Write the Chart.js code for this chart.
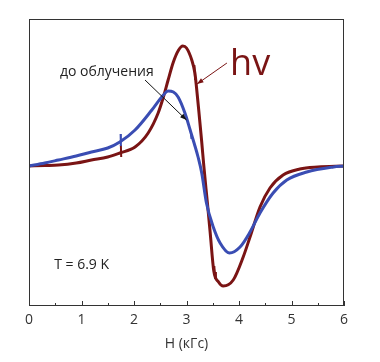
<!DOCTYPE html>
<html><head><meta charset="utf-8">
<script src="https://cdn.jsdelivr.net/npm/chart.js@4"></script>
<style>html,body{margin:0;padding:0;background:#fff}#wrap{width:380px;height:362px}</style>
</head><body><div id="wrap"><canvas id="c" width="380" height="362"></canvas></div>
<script>
// Field H (kG) and signal (arb. units) for each curve
const hRed = [0,0.3,0.56,0.9,1.19,1.5,1.73,2.02,2.27,2.46,2.56,2.65,2.75,2.85,2.93,3.0,3.1,3.16,3.19,3.24,3.29,3.33,3.4,3.45,3.52,3.61,3.7,3.89,4.08,4.21,4.4,4.59,4.84,5.16,5.5,6.0];
const redVals = [0,0.5,1,3,6,9,13,19,33,53,69,86,104,116,120,118,106,93,79,52,24,0,-38,-66,-105,-116,-120,-114,-91,-71,-41,-22,-9,-3,-1,0];
const hBlue = [0,0.3,0.56,0.9,1.19,1.5,1.73,2.02,2.34,2.56,2.65,2.75,2.84,2.97,3.07,3.15,3.22,3.29,3.38,3.51,3.64,3.82,4.02,4.21,4.4,4.65,4.91,5.29,5.8,6.0];
const blueVals = [0,3,6,10,14,18,24,36,56,71,75,74,69,53,36,22,9,-7,-37,-61,-77,-87,-81,-66,-47,-27,-14,-6,-1,0];
// small instrumental glitches on the traces
const redGlitchH = [[1.75,1.756],[3.15,3.165],[3.53,3.545,3.56]];
const redGlitchV = [[21,9],[101,86],[-100,-112,-106]];
const blueGlitchH = [[1.745,1.75],[3.08,3.095]];
const blueGlitchV = [[32,20],[35,27]];
const xTicks = [0,1,2,3,4,5,6];

const toPts = (xs, ys) => xs.map((x,i)=>({x, y: ys[i]}));

const RED = '#7a1414', BLUE = '#3a4db3', FONT = "'Open Sans', 'Noto Sans', sans-serif";

const decor = {
  id:'decor',
  afterDatasetsDraw(chart){
    const {ctx, chartArea:a, scales:{x,y}} = chart;
    ctx.save();
    ctx.strokeStyle='#333'; ctx.lineWidth=1;
    ctx.strokeRect(Math.round(a.left)+0.5, Math.round(a.top)+0.5, Math.round(a.right-a.left)-1, Math.round(a.bottom-a.top)-1);
    for(let v=0; v<=6.001; v+=0.5){
      const px = Math.round(x.getPixelForValue(v))+0.5;
      const len = Math.abs(v-Math.round(v))<1e-6 ? 5 : 3;
      ctx.beginPath(); ctx.moveTo(px, a.bottom); ctx.lineTo(px, a.bottom-len); ctx.stroke();
    }
    const arrow = (x1,y1,x2,y2,col,w) => {
      const X1=x.getPixelForValue(x1), Y1=y.getPixelForValue(y1), X2=x.getPixelForValue(x2), Y2=y.getPixelForValue(y2);
      ctx.strokeStyle=col; ctx.fillStyle=col; ctx.lineWidth=w;
      ctx.beginPath(); ctx.moveTo(X1,Y1); ctx.lineTo(X2,Y2); ctx.stroke();
      const ang=Math.atan2(Y2-Y1,X2-X1), L=7, W=0.35;
      ctx.beginPath(); ctx.moveTo(X2,Y2);
      ctx.lineTo(X2-L*Math.cos(ang-W), Y2-L*Math.sin(ang-W));
      ctx.lineTo(X2-L*Math.cos(ang+W), Y2-L*Math.sin(ang+W));
      ctx.closePath(); ctx.fill();
    };
    arrow(3.77,103,3.2,82,RED,1);
    arrow(2.21,86,3.0,46,'#111',1);
    ctx.textBaseline='alphabetic'; ctx.textAlign='left';
    ctx.fillStyle=RED; ctx.font="36px "+FONT;
    ctx.fillText('hv', x.getPixelForValue(3.83), y.getPixelForValue(91));
    ctx.textBaseline='middle';
    ctx.fillStyle='#222'; ctx.font="14px "+FONT;
    ctx.fillText('до облучения', x.getPixelForValue(0.59), y.getPixelForValue(94));
    ctx.fillText('T = 6.9 K', x.getPixelForValue(0.48), y.getPixelForValue(-99));
    ctx.restore();
  }
};

const line = (xs, ys, col, smooth) => ({data: toPts(xs, ys), borderColor: col, borderWidth: 3, pointRadius: 0,
  tension: smooth ? 0.4 : 0, cubicInterpolationMode: smooth ? 'monotone' : 'default'});
const datasets = [line(hBlue, blueVals, BLUE, true)];
blueGlitchH.forEach((h,i)=>datasets.push(Object.assign(line(h, blueGlitchV[i], BLUE, false),{borderWidth:2})));
datasets.push(line(hRed, redVals, RED, true));
redGlitchH.forEach((h,i)=>datasets.push(Object.assign(line(h, redGlitchV[i], RED, false),{borderWidth:2})));

new Chart(document.getElementById('c'), {
  type:'line',
  data:{datasets},
  options:{
    responsive:false, animation:false,
    layout:{padding:{left:29, right:36, top:19, bottom:0}},
    plugins:{legend:{display:false}, tooltip:{enabled:false}},
    scales:{
      x:{type:'linear', min:0, max:6,
        afterBuildTicks: s => { s.ticks = xTicks.map(v=>({value:v})); },
        afterFit: s => { s.height = 56; },
        grid:{display:false, drawTicks:false}, border:{display:false},
        ticks:{padding:6, color:'#333', font:{family:FONT, size:14}},
        title:{display:true, text:'H (кГс)', color:'#333', font:{family:FONT, size:14}, padding:{top:0,bottom:10}}
      },
      y:{display:false, min:-140, max:147}
    }
  },
  plugins:[decor]
});
</script></body></html>
